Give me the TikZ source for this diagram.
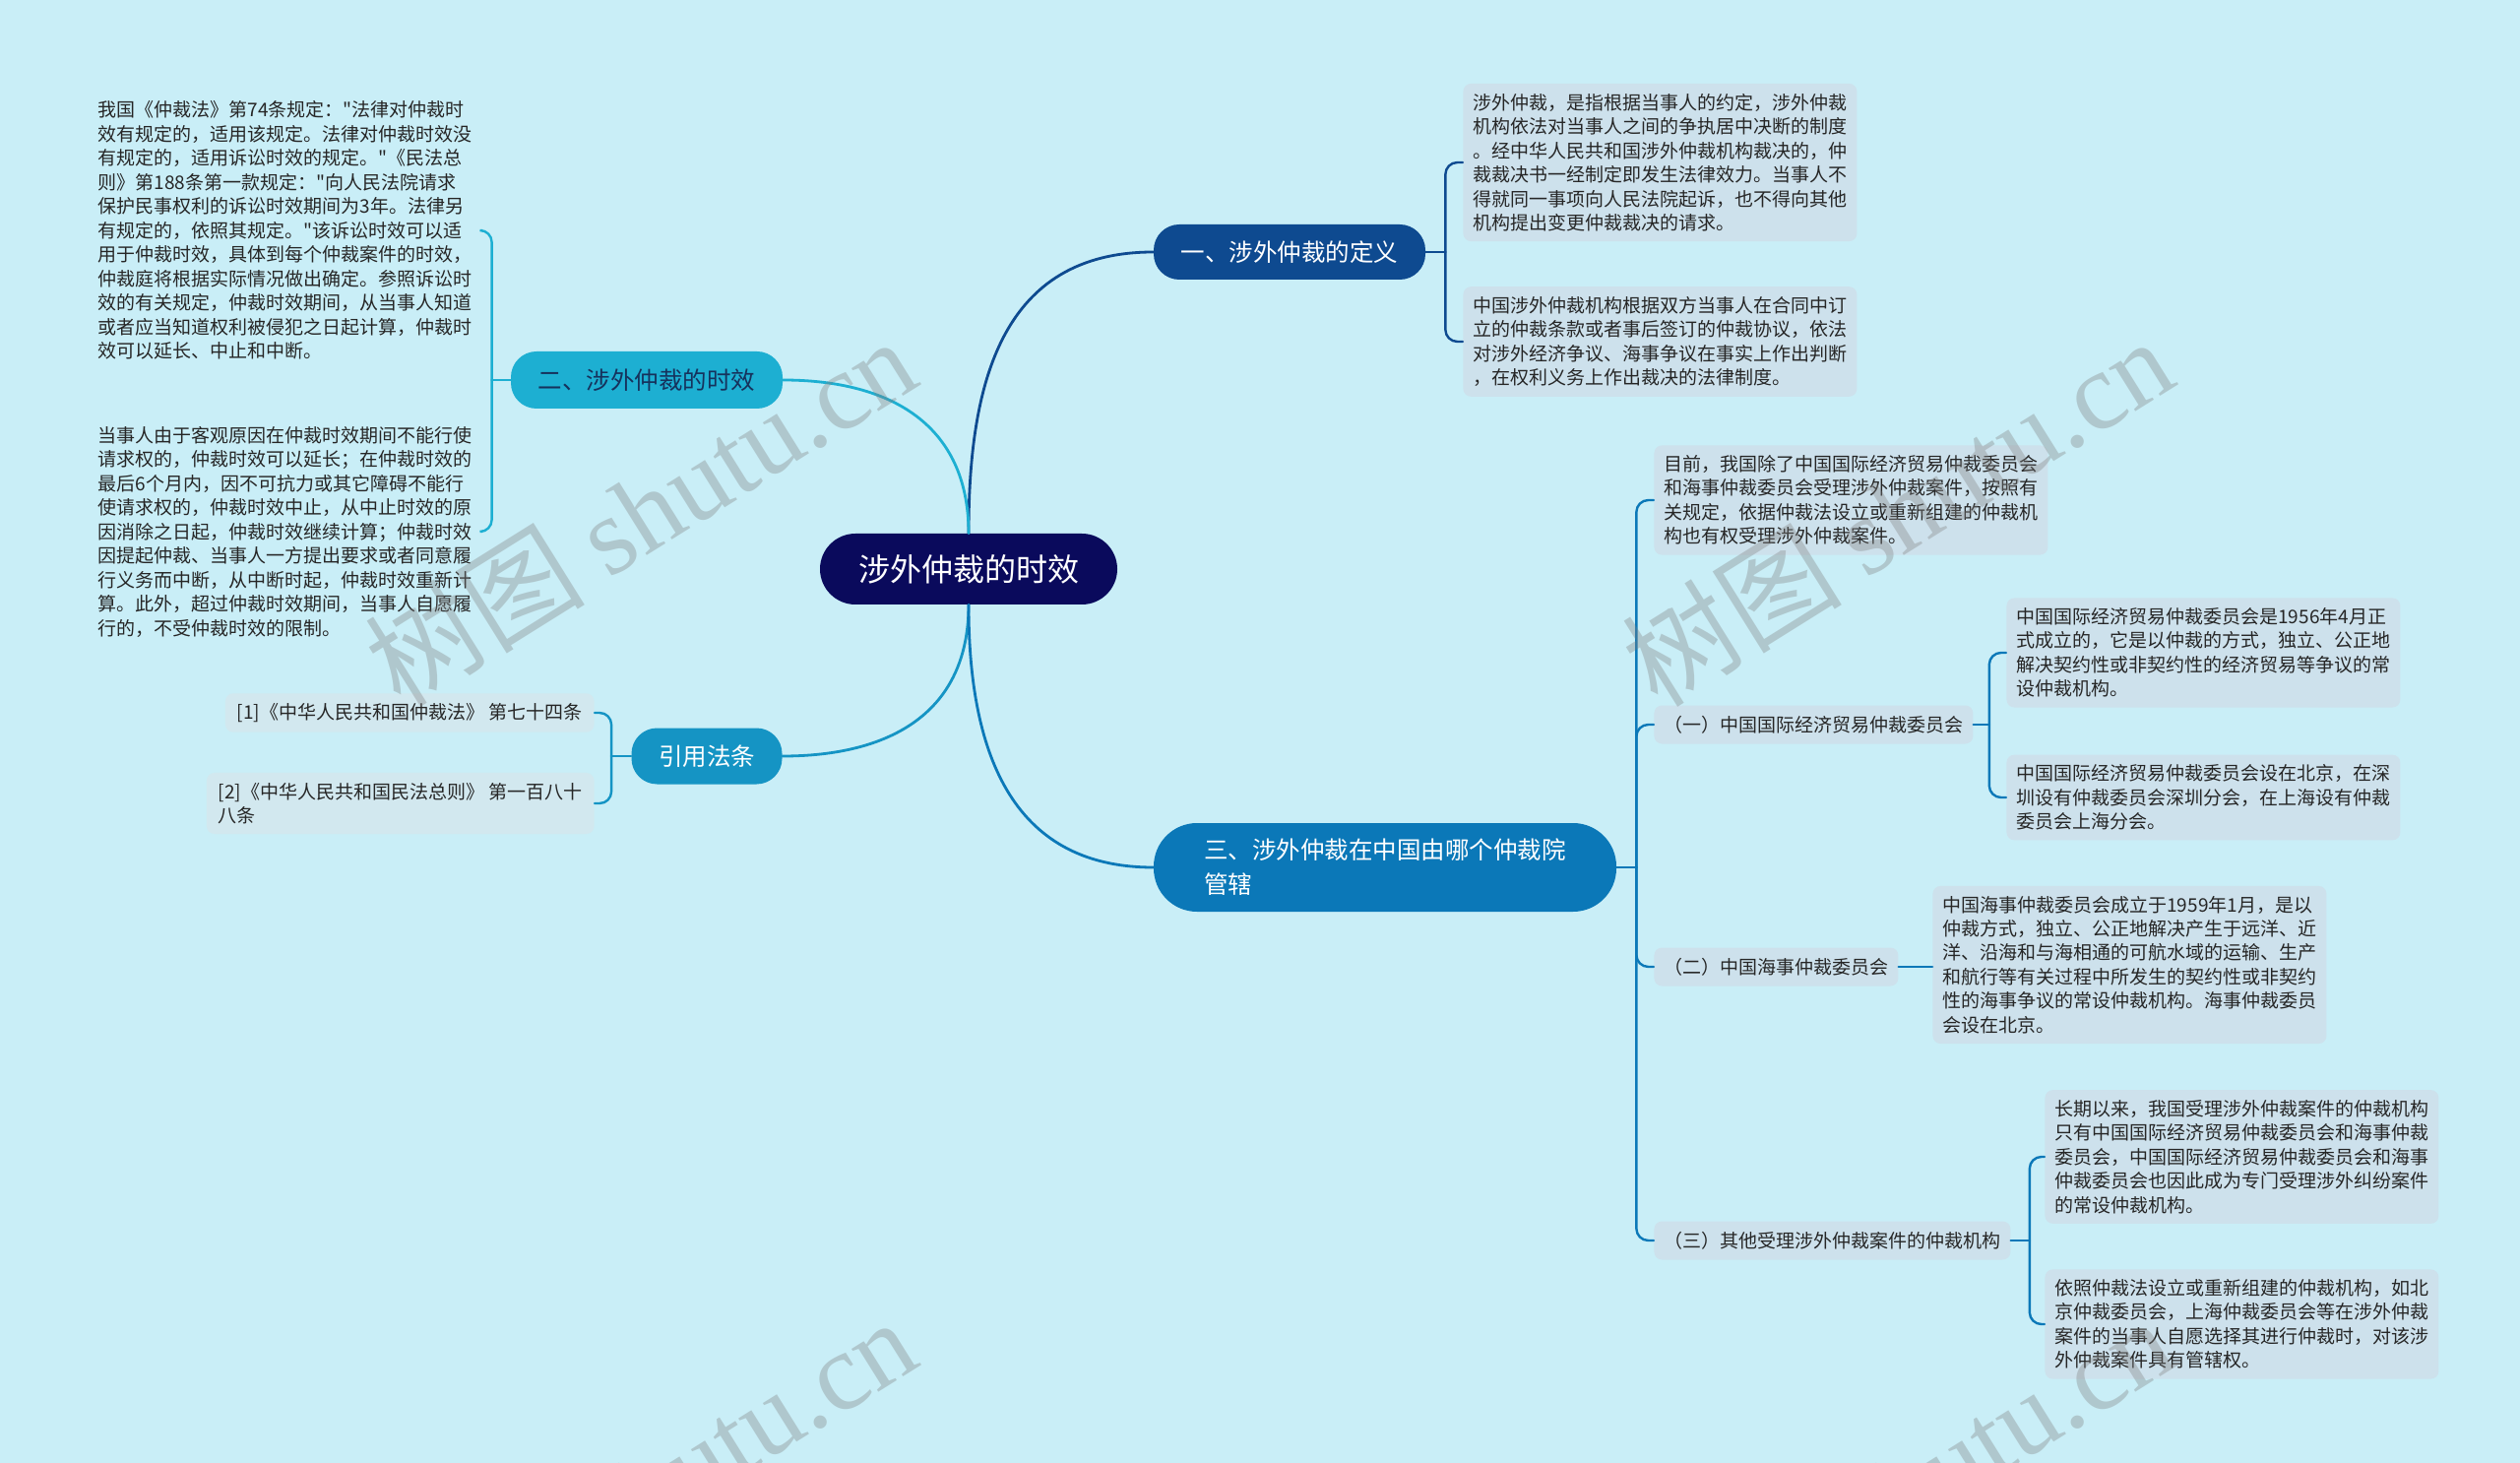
\documentclass[tikz,border=0pt]{standalone}
\usepackage{fontspec}
\newfontfamily\cjk{Noto Sans CJK SC}
\newfontfamily\wmserif{Liberation Serif}
\definecolor{bgcyan}{HTML}{C9EEF7}
\definecolor{rootnavy}{HTML}{0A0A5C}
\definecolor{defblue}{HTML}{0E4A90}
\definecolor{timecyan}{HTML}{1DAFD2}
\definecolor{citeblue}{HTML}{1594C4}
\definecolor{courtblue}{HTML}{0B78B8}
\definecolor{leafgrey}{HTML}{CDE1EC}
\definecolor{citegrey}{HTML}{D2E8EF}
\definecolor{darktext}{HTML}{16325C}

\begin{document}
\begin{tikzpicture}[x=0.5pt, y=-0.5pt, line cap=round]
    \tikzstyle{every node}=[font=\cjk]
    \tikzstyle{root}=[fill=rootnavy, text=white, rounded corners=18pt, minimum width=151pt, minimum height=36pt, font=\cjk\fontsize{16pt}{19pt}\selectfont]
    \tikzstyle{branch}=[text=white, rounded corners=13pt, minimum width=138pt, minimum height=28pt, font=\cjk\fontsize{12.25pt}{17.5pt}\selectfont]
    \tikzstyle{leaf}=[fill=leafgrey, rounded corners=4pt, text width=190pt, align=left, inner xsep=5pt, inner ysep=5pt, text=black!85, font=\cjk\fontsize{9.5pt}{12.25pt}\selectfont]
    \tikzstyle{plain}=[leaf, fill=none]
    \tikzstyle{sub}=[fill=leafgrey, rounded corners=4pt, inner xsep=5pt, minimum height=19.5pt, text=black!85, font=\cjk\fontsize{9.5pt}{12.25pt}\selectfont]
    \tikzstyle{cite}=[fill=citegrey, rounded corners=4pt, align=left, inner xsep=6pt, inner ysep=5pt, text=black!85, font=\cjk\fontsize{9.5pt}{12.25pt}\selectfont]
    \tikzstyle{link}=[line width=1.4pt]
    \tikzstyle{brace}=[line width=1.2pt, rounded corners=6pt]
    \tikzstyle{wm}=[rotate=32, text=gray, text opacity=0.35, font=\cjk\fontsize{56pt}{60pt}\selectfont]

    \fill[bgcyan] (0,0) rectangle (2560,1486);
    \useasboundingbox (0,0) rectangle (2560,1486);

    % main topic and branches
    \node[root] (c) at (984,578) {涉外仲裁的时效};
    \node[branch, fill=defblue] (n1) at (1310,256) {一、涉外仲裁的定义};
    \node[branch, fill=timecyan, text=darktext, minimum height=29pt] (n2) at (657,386) {二、涉外仲裁的时效};
    \node[branch, fill=citeblue, minimum width=76.5pt, minimum height=28.5pt] (n4) at (718,768) {引用法条};
    \node[branch, fill=courtblue, text width=184pt, align=left, inner xsep=25.5pt, minimum height=45pt, rounded corners=22pt] (n3) at (1407,881) {三、涉外仲裁在中国由哪个仲裁院\\管辖};

    \draw[link, defblue] (c.north) to[out=90, in=180, looseness=1.15] (n1.west);
    \draw[link, timecyan] (c.north) to[out=90, in=0, looseness=1.15] (n2.east);
    \draw[link, citeblue] (c.south) to[out=-90, in=0, looseness=1.15] (n4.east);
    \draw[link, courtblue] (c.south) to[out=-90, in=180, looseness=1.15] (n3.west);

    % 二
    \node[plain, anchor=east] (t1) at (490,234) {我国《仲裁法》第74条规定："法律对仲裁时\\效有规定的，适用该规定。法律对仲裁时效没\\有规定的，适用诉讼时效的规定。"《民法总\\则》第188条第一款规定："向人民法院请求\\保护民事权利的诉讼时效期间为3年。法律另\\有规定的，依照其规定。"该诉讼时效可以适\\用于仲裁时效，具体到每个仲裁案件的时效，\\仲裁庭将根据实际情况做出确定。参照诉讼时\\效的有关规定，仲裁时效期间，从当事人知道\\或者应当知道权利被侵犯之日起计算，仲裁时\\效可以延长、中止和中断。};
    \node[plain, anchor=east] (t2) at (490,540) {当事人由于客观原因在仲裁时效期间不能行使\\请求权的，仲裁时效可以延长；在仲裁时效的\\最后6个月内，因不可抗力或其它障碍不能行\\使请求权的，仲裁时效中止，从中止时效的原\\因消除之日起，仲裁时效继续计算；仲裁时效\\因提起仲裁、当事人一方提出要求或者同意履\\行义务而中断，从中断时起，仲裁时效重新计\\算。此外，超过仲裁时效期间，当事人自愿履\\行的，不受仲裁时效的限制。};
    \draw[link, timecyan] (n2.west) -- ++(-19,0) coordinate (k2);
    \draw[brace, timecyan] (t1.east) -| (k2) |- (t2.east);

    % 引用法条
    \node[cite, anchor=east] (r1) at (604,724) {[1]《中华人民共和国仲裁法》 第七十四条};
    \node[cite, anchor=east] (r2) at (604,816) {[2]《中华人民共和国民法总则》 第一百八十\\八条};
    \draw[link, citeblue] (n4.west) -- ++(-20,0) coordinate (k4);
    \draw[brace, citeblue] (r1.east) -| (k4) |- (r2.east);

    % 一
    \node[leaf, anchor=west] (d1) at (1486,165) {涉外仲裁，是指根据当事人的约定，涉外仲裁\\机构依法对当事人之间的争执居中决断的制度\\。经中华人民共和国涉外仲裁机构裁决的，仲\\裁裁决书一经制定即发生法律效力。当事人不\\得就同一事项向人民法院起诉，也不得向其他\\机构提出变更仲裁裁决的请求。};
    \node[leaf, anchor=west] (d2) at (1486,347) {中国涉外仲裁机构根据双方当事人在合同中订\\立的仲裁条款或者事后签订的仲裁协议，依法\\对涉外经济争议、海事争议在事实上作出判断\\，在权利义务上作出裁决的法律制度。};
    \draw[link, defblue] (n1.east) -- ++(20,0) coordinate (k1);
    \draw[brace, defblue] (d1.west) -| (k1) |- (d2.west);

    % 三
    \node[leaf, anchor=west] (p0) at (1680,508) {目前，我国除了中国国际经济贸易仲裁委员会\\和海事仲裁委员会受理涉外仲裁案件，按照有\\关规定，依据仲裁法设立或重新组建的仲裁机\\构也有权受理涉外仲裁案件。};
    \node[sub, anchor=west] (s1) at (1680,736) {（一）中国国际经济贸易仲裁委员会};
    \node[sub, anchor=west] (s2) at (1680,982) {（二）中国海事仲裁委员会};
    \node[sub, anchor=west] (s3) at (1680,1260) {（三）其他受理涉外仲裁案件的仲裁机构};
    \draw[link, courtblue] (n3.east) -- ++(20,0) coordinate (k3);
    \draw[brace, courtblue] (p0.west) -| (k3) |- (s3.west);
    \draw[brace, courtblue] (k3) |- (s1.west);
    \draw[brace, courtblue] (k3) |- (s2.west);

    \node[leaf, anchor=west] (a1) at (2038,663) {中国国际经济贸易仲裁委员会是1956年4月正\\式成立的，它是以仲裁的方式，独立、公正地\\解决契约性或非契约性的经济贸易等争议的常\\设仲裁机构。};
    \node[leaf, anchor=west] (a2) at (2038,810) {中国国际经济贸易仲裁委员会设在北京，在深\\圳设有仲裁委员会深圳分会，在上海设有仲裁\\委员会上海分会。};
    \draw[link, courtblue] (s1.east) -- ++(16,0) coordinate (ks1);
    \draw[brace, courtblue] (a1.west) -| (ks1) |- (a2.west);

    \node[leaf, anchor=west] (b1) at (1963,980) {中国海事仲裁委员会成立于1959年1月，是以\\仲裁方式，独立、公正地解决产生于远洋、近\\洋、沿海和与海相通的可航水域的运输、生产\\和航行等有关过程中所发生的契约性或非契约\\性的海事争议的常设仲裁机构。海事仲裁委员\\会设在北京。};
    \draw[link, courtblue] (s2.east) -- (s2.east -| b1.west);

    \node[leaf, anchor=west] (e1) at (2077,1175) {长期以来，我国受理涉外仲裁案件的仲裁机构\\只有中国国际经济贸易仲裁委员会和海事仲裁\\委员会，中国国际经济贸易仲裁委员会和海事\\仲裁委员会也因此成为专门受理涉外纠纷案件\\的常设仲裁机构。};
    \node[leaf, anchor=west] (e2) at (2077,1345) {依照仲裁法设立或重新组建的仲裁机构，如北\\京仲裁委员会，上海仲裁委员会等在涉外仲裁\\案件的当事人自愿选择其进行仲裁时，对该涉\\外仲裁案件具有管辖权。};
    \draw[link, courtblue] (s3.east) -- ++(19,0) coordinate (ks3);
    \draw[brace, courtblue] (e1.west) -| (ks3) |- (e2.west);

    % watermark
    \begin{scope}
        \clip (0,0) rectangle (2560,1486);
        \node[wm] (wm1) at (650,519) {树图 {\wmserif shutu.cn}};
        \node[wm] (wm2) at (1927,519) {树图 {\wmserif shutu.cn}};
        \node[wm] (wm3) at (650,1515) {树图 {\wmserif shutu.cn}};
        \node[wm] (wm4) at (1927,1515) {树图 {\wmserif shutu.cn}};
    \end{scope}
\end{tikzpicture}
\end{document}
